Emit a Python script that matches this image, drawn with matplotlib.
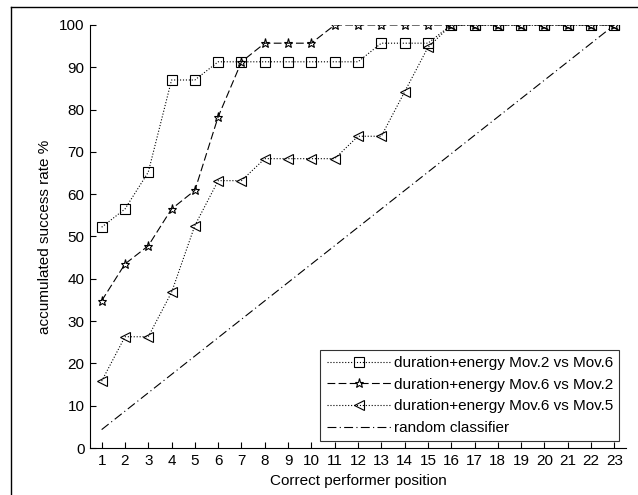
import matplotlib
matplotlib.use("Agg")
import matplotlib.pyplot as plt
from matplotlib.lines import Line2D

plt.rcParams['font.family'] = ['Liberation Sans', 'DejaVu Sans']

# performer positions
positions = list(range(1, 24))

# accumulated success rate (%) per position
mov2_vs_mov6 = [52.2, 56.5, 65.2, 87.0, 87.0, 91.3, 91.3, 91.3, 91.3, 91.3, 91.3, 91.3,
                95.7, 95.7, 95.7, 100, 100, 100, 100, 100, 100, 100, 100]
mov6_vs_mov2 = [34.8, 43.5, 47.8, 56.5, 60.9, 78.3, 91.3, 95.7, 95.7, 95.7, 100, 100,
                100, 100, 100, 100, 100, 100, 100, 100, 100, 100, 100]
mov6_vs_mov5 = [15.8, 26.3, 26.3, 36.8, 52.6, 63.2, 63.2, 68.4, 68.4, 68.4, 68.4, 73.7,
                73.7, 84.2, 94.7, 100, 100, 100, 100, 100, 100, 100, 100]
random_clf = [4.35, 100]
random_x = [1, 23]

labels = ["duration+energy Mov.2 vs Mov.6",
          "duration+energy Mov.6 vs Mov.2",
          "duration+energy Mov.6 vs Mov.5",
          "random classifier"]

fig = plt.figure(figsize=(6.38, 4.95), dpi=100)
ax = fig.add_axes([90 / 638, 1 - 448 / 495, 536 / 638, 423 / 495])

lw = 0.8
ax.plot(positions, mov2_vs_mov6, color='black', linestyle=':', linewidth=lw,
        marker='s', markersize=7, markerfacecolor='none', markeredgewidth=0.8,
        label=labels[0])
ax.plot(positions, mov6_vs_mov2, color='black', linestyle=(0, (7, 3)), linewidth=lw,
        marker='*', markersize=6.5, markerfacecolor='none', markeredgewidth=0.8,
        label=labels[1])
ax.plot(positions, mov6_vs_mov5, color='black', linestyle=':', linewidth=lw,
        marker='<', markersize=7, markerfacecolor='none', markeredgewidth=0.8,
        label=labels[2])
ax.plot(random_x, random_clf, color='black', linestyle=(0, (8, 3, 1, 3)), linewidth=lw,
        label=labels[3])

ax.set_xlim(0.5, 23.5)
ax.set_ylim(0, 100)
ax.set_xticks(positions)
ax.set_yticks(range(0, 101, 10))
ax.tick_params(direction='in', length=4, width=0.8, labelsize=11, pad=4, colors='black')
ax.spines['top'].set_visible(False)
ax.spines['right'].set_visible(False)
for s in ('left', 'bottom'):
    ax.spines[s].set_linewidth(0.8)

ax.set_xlabel("Correct performer position", fontsize=11, labelpad=5)
ax.set_ylabel("accumulated success rate %", fontsize=11, labelpad=5)

leg = ax.legend(loc='lower right', fontsize=11, frameon=True, fancybox=False,
                edgecolor='black', handlelength=4.2, handletextpad=0.2,
                labelspacing=0.5, borderpad=0.4, borderaxespad=0.45)
leg.get_frame().set_linewidth(0.8)

# partial figure frame (screenshot crop)
fig.add_artist(Line2D([11 / 638, 11 / 638], [0, 1 - 7 / 495], color='black', linewidth=1))
fig.add_artist(Line2D([11 / 638, 1], [1 - 7 / 495, 1 - 7 / 495], color='black', linewidth=1))

fig.savefig("out.png", dpi=100)
